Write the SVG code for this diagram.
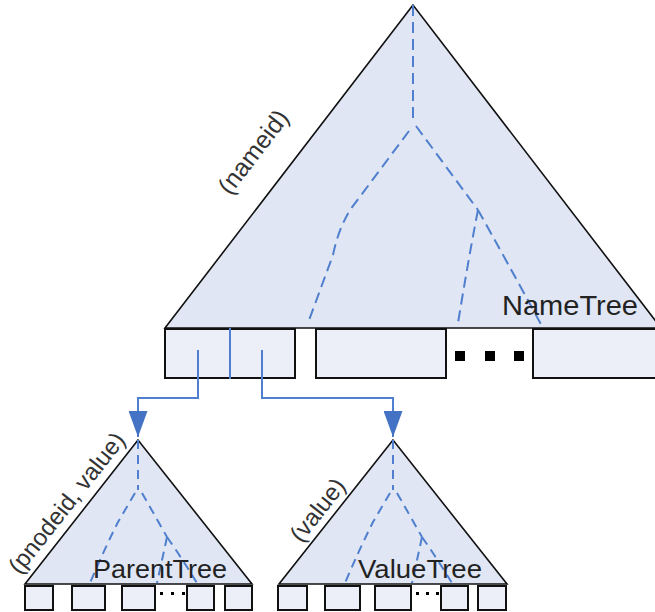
<svg xmlns="http://www.w3.org/2000/svg" width="655" height="612" viewBox="0 0 655 612">
  <style>
    .tri { fill: #e0e6f3; stroke: #111; stroke-width: 1.6; stroke-linejoin: miter; }
    .box { fill: #eceef8; stroke: #111; stroke-width: 2; }
    .dash { fill: none; stroke: #4f7fce; stroke-width: 2; stroke-dasharray: 11 6; }
    .dash-s { fill: none; stroke: #4f7fce; stroke-width: 2; stroke-dasharray: 9 6; }
    .link { fill: none; stroke: #4f7fce; stroke-width: 2; }
    .dot { fill: #000; }
    .label { font-family: "Liberation Sans", Arial, sans-serif; fill: #222; }
    .key { font-family: "Liberation Sans", Arial, sans-serif; fill: #333; text-anchor: middle; }
  </style>
  <defs>
    <marker id="arrow" markerUnits="userSpaceOnUse" markerWidth="27" markerHeight="19" refX="26" refY="9.5" orient="auto">
      <path d="M0,0 L26,9.5 L0,19 z" fill="#4472c4"/>
    </marker>
    <!-- dashed inner branches shared by the two small trees -->
    <g id="smallBranches">
      <path class="dash-s" d="M0,0 L0,50"/>
      <path class="dash-s" d="M-3,53 L-20,82 Q-34,110 -48,143"/>
      <path class="dash-s" d="M4,53 L29,97"/>
      <path class="dash-s" d="M29,97 Q23,125 19,143"/>
      <path class="dash-s" d="M29,97 Q45,120 59,143"/>
    </g>
  </defs>

  <!-- NameTree -->
  <g id="nameTree">
    <polygon class="tri" points="413,5 165,328 661,328"/>
    <path class="dash" d="M413,5 L413,123"/>
    <path class="dash" d="M409,131 L350,210 Q338,230 333,255 L308,323"/>
    <path class="dash" d="M416,126 L478,210"/>
    <path class="dash" d="M478,210 Q470,250 458,323"/>
    <path class="dash" d="M478,210 Q505,258 543,328"/>
    <text class="label" x="502" y="315" font-size="28" textLength="136" lengthAdjust="spacingAndGlyphs">NameTree</text>
    <text class="key" font-size="25" transform="translate(260,157) rotate(-52.5)">(nameid)</text>
    <rect class="box" x="165" y="329" width="130" height="49"/>
    <line class="link" x1="230" y1="328" x2="230" y2="379"/>
    <rect class="box" x="316" y="329" width="130" height="49"/>
    <rect class="box" x="533" y="329" width="140" height="49"/>
    <rect class="dot" x="455" y="351" width="10" height="10"/>
    <rect class="dot" x="485" y="351" width="10" height="10"/>
    <rect class="dot" x="514" y="351" width="10" height="10"/>
  </g>

  <!-- ParentTree -->
  <g id="parentTree">
    <polygon class="tri" points="138,440 25,584 252,584"/>
    <use href="#smallBranches" transform="translate(138,440)"/>
    <text class="label" x="93" y="578" font-size="26" textLength="134" lengthAdjust="spacingAndGlyphs">ParentTree</text>
    <text class="key" font-size="24" transform="translate(73,508) rotate(-51.7)">(pnodeid, value)</text>
    <rect class="box" x="25" y="586" width="28" height="24"/>
    <rect class="box" x="72" y="586" width="33" height="24"/>
    <rect class="box" x="122" y="586" width="33" height="24"/>
    <rect class="box" x="187" y="586" width="27" height="24"/>
    <rect class="box" x="225" y="586" width="27" height="24"/>
    <rect class="dot" x="160" y="592" width="3" height="3"/>
    <rect class="dot" x="171" y="592" width="3" height="3"/>
    <rect class="dot" x="182" y="592" width="3" height="3"/>
  </g>

  <!-- ValueTree -->
  <g id="valueTree">
    <polygon class="tri" points="393,440 279,584 507,584"/>
    <use href="#smallBranches" transform="translate(393,440)"/>
    <text class="label" x="358" y="578" font-size="26" textLength="124" lengthAdjust="spacingAndGlyphs">ValueTree</text>
    <text class="key" font-size="24" transform="translate(324,515) rotate(-51.7)">(value)</text>
    <rect class="box" x="278" y="586" width="29" height="24"/>
    <rect class="box" x="325" y="586" width="35" height="24"/>
    <rect class="box" x="375" y="586" width="36" height="24"/>
    <rect class="box" x="441" y="586" width="27" height="24"/>
    <rect class="box" x="478" y="586" width="28" height="24"/>
    <rect class="dot" x="416" y="592" width="3" height="3"/>
    <rect class="dot" x="426" y="592" width="3" height="3"/>
    <rect class="dot" x="436" y="592" width="3" height="3"/>
  </g>

  <!-- connectors from NameTree entries to the subtrees -->
  <g id="connectors">
    <path class="link" d="M198,350 L198,398 L138,398 L138,437" marker-end="url(#arrow)"/>
    <path class="link" d="M262,350 L262,398 L393,398 L393,437" marker-end="url(#arrow)"/>
  </g>
</svg>
